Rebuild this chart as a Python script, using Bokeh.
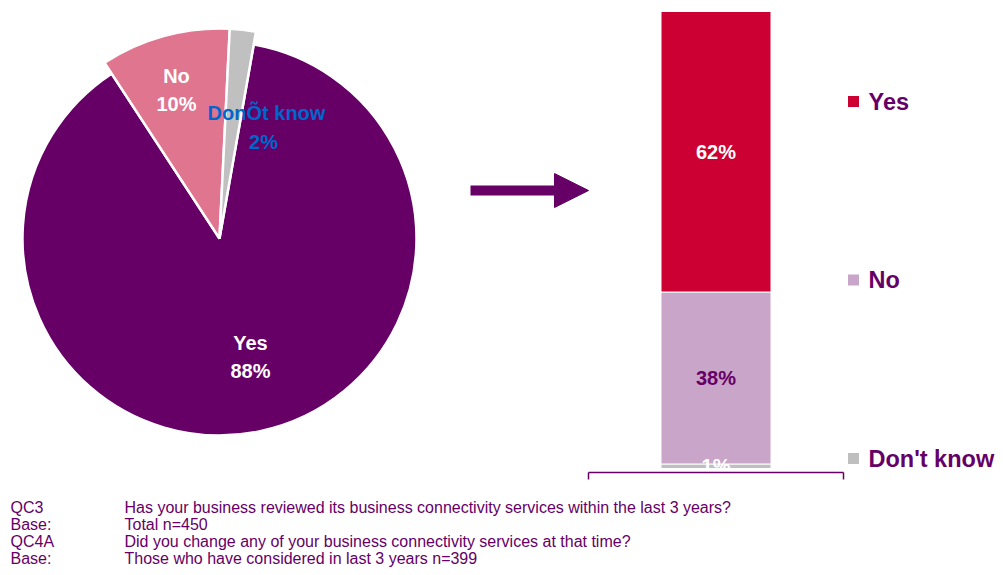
import numpy as np
from bokeh.plotting import figure
from bokeh.models import Range1d, Arrow, NormalHead, ColumnDataSource
from bokeh.core.properties import value
from bokeh.embed import file_html
from bokeh.resources import INLINE

# ---------------- data ----------------
pie_labels = ["Yes", "No", "DonÕt know"]
pie_values = [88, 10, 2]
pie_colors = ["#660066", "#E07590", "#C0C0C0"]
pie_text_colors = ["white", "white", "#0066CC"]

bar_labels = ["Yes", "No", "Don't know"]
bar_values = [62, 38, 1]
bar_colors = ["#CC0033", "#C9A5C9", "#BFBFBF"]
bar_text_colors = ["white", "#660066", "white"]

footer_keys = ["QC3", "Base:", "QC4A", "Base:"]
footer_texts = [
    "Has your business reviewed its business connectivity services within the last 3 years?",
    "Total n=450",
    "Did you change any of your business connectivity services at that time?",
    "Those who have considered in last 3 years n=399",
]

# ---------------- layout ----------------
W, H = 1003, 575
PURPLE = "#660066"
FONT = value("Liberation Sans")


def sy(y):
    return H - y


p = figure(width=W, height=H, x_range=Range1d(0, W), y_range=Range1d(0, H),
           output_backend="svg", toolbar_location=None, min_border=0,
           x_axis_location=None, y_axis_location=None)
p.outline_line_color = None
p.xgrid.visible = False
p.ygrid.visible = False
p.background_fill_color = "white"
p.border_fill_color = "white"

# ---------------- pie ----------------
cx, cy = 219, sy(238)
start_clock = 10.0
vals = np.array(pie_values, dtype=float)
sweep = vals / vals.sum() * 360.0
c_start = start_clock + np.concatenate([[0.0], np.cumsum(sweep)[:-1]])
c_end = c_start + sweep
pie_src = ColumnDataSource(dict(
    start=np.radians(90 - c_end), end=np.radians(90 - c_start),
    color=pie_colors, radius=[197, 210, 210]))
p.wedge(x=cx, y=cy, radius="radius", radius_units="screen",
        start_angle="start", end_angle="end", direction="anticlock",
        fill_color="color", line_color="white", line_width=2.5, source=pie_src)

pie_label_pos = [((250, 342), (250, 370)), ((176, 75), (176, 103)), ((266, 112), (263, 141))]
for lab, v, col, (pn, pv) in zip(pie_labels, pie_values, pie_text_colors, pie_label_pos):
    p.text(x=[pn[0], pv[0]], y=[sy(pn[1]), sy(pv[1])], text=[lab, f"{v}%"],
           text_color=col, text_font=FONT, text_font_style="bold",
           text_font_size="20px", text_align="center", text_baseline="middle")

# ---------------- arrow ----------------
p.add_layout(Arrow(end=NormalHead(size=34, fill_color=PURPLE, line_color=PURPLE),
                   x_start=470, y_start=sy(190), x_end=588, y_end=sy(190),
                   line_width=10, line_color=PURPLE))

# ---------------- stacked bar ----------------
bar_bottom_px, bar_top_px = 468, 11
total = sum(bar_values)
scale = (bar_bottom_px - bar_top_px) / total
lo = -(H - bar_bottom_px) / scale
p.extra_y_ranges = {"pct": Range1d(lo, lo + H / scale)}

order = list(reversed(range(len(bar_labels))))  # bottom -> top
stack_keys = [f"s{i}" for i in order]
bar_src = ColumnDataSource({**{f"s{i}": [bar_values[i]] for i in order}, "x": [715.5]})
p.vbar_stack(stack_keys, x="x", width=110, source=bar_src, y_range_name="pct",
             color=[bar_colors[i] for i in order], line_color="white", line_width=1)

cum = 0.0
mids = {}
for i in order:
    mids[i] = cum + bar_values[i] / 2
    cum += bar_values[i]
for i in order:
    p.text(x=[715.5], y=[mids[i]], text=[f"{bar_values[i]}%"], y_range_name="pct",
           text_color=bar_text_colors[i], text_font=FONT, text_font_style="bold",
           text_font_size="20px", text_align="center", text_baseline="middle")

# axis line under bar
p.segment(x0=[588, 588, 843], y0=[sy(472), sy(472), sy(472)],
          x1=[843, 588, 843], y1=[sy(472), sy(479), sy(479)],
          line_color=PURPLE, line_width=1.5)

# ---------------- legend ----------------
leg_top, leg_step = 101, 178.5
leg_y = [sy(leg_top + k * leg_step) for k in range(len(bar_labels))]
p.scatter(x=[853] * len(bar_labels), y=leg_y, marker="square", size=11,
          fill_color=bar_colors, line_color=None)
p.text(x=[868] * len(bar_labels), y=leg_y, text=bar_labels, text_color=PURPLE,
       text_font=FONT, text_font_style="bold", text_font_size="23.5px",
       text_align="left", text_baseline="middle")

# ---------------- footer ----------------
foot_y = [sy(507 + 17 * k) for k in range(len(footer_keys))]
p.text(x=[10] * len(footer_keys), y=foot_y, text=footer_keys, text_color=PURPLE,
       text_font=FONT, text_font_size="16px", text_align="left", text_baseline="middle")
p.text(x=[124] * len(footer_texts), y=foot_y, text=footer_texts, text_color=PURPLE,
       text_font=FONT, text_font_size="16px", text_align="left", text_baseline="middle")

open("out.html", "w").write(file_html(p, INLINE))
